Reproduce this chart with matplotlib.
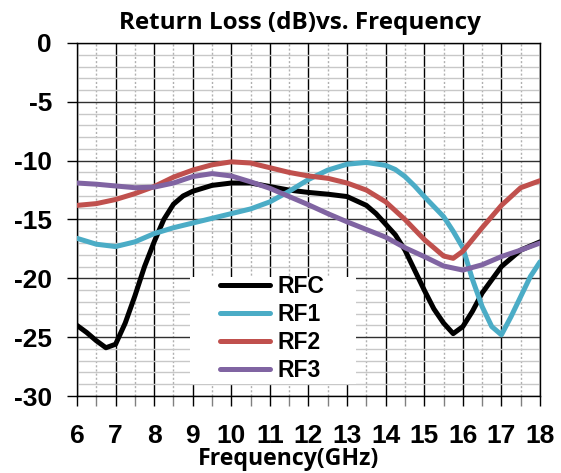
import matplotlib
matplotlib.use("Agg")
from matplotlib import pyplot as plt
from matplotlib.patches import Rectangle
from matplotlib.ticker import MultipleLocator

plt.rcParams["axes.unicode_minus"] = False

#
# - data
#

rfc_freq = [6, 6.25, 6.5, 6.75, 7, 7.25, 7.5, 7.75, 8, 8.25, 8.5, 8.75, 9, 9.5, 10, 10.5, 11, 11.5,
            12, 12.5, 13, 13.5, 13.75, 14, 14.25, 14.5, 14.75, 15, 15.25, 15.5, 15.75, 16, 16.25,
            16.5, 17, 17.5, 18]
rfc_db = [-24.0, -24.6, -25.3, -25.9, -25.6, -23.8, -21.5, -19.0, -16.9, -15.0, -13.7, -13.0, -12.6,
          -12.1, -11.9, -11.9, -12.2, -12.5, -12.7, -12.85, -13.05, -13.8, -14.5, -15.4, -16.3, -17.6,
          -19.3, -21.0, -22.6, -23.8, -24.7, -24.1, -22.8, -21.25, -19.0, -17.6, -16.9]

rf1_freq = [6, 6.5, 7, 7.5, 8, 8.5, 9, 9.5, 10, 10.5, 11, 11.5, 12, 12.5, 13, 13.5, 14, 14.25, 14.5,
            14.75, 15, 15.25, 15.5, 15.75, 16, 16.25, 16.5, 16.75, 17, 17.25, 17.5, 17.75, 18]
rf1_db = [-16.6, -17.1, -17.3, -16.9, -16.2, -15.7, -15.3, -14.9, -14.5, -14.1, -13.5, -12.6, -11.6,
          -10.8, -10.3, -10.15, -10.4, -10.75, -11.35, -12.15, -13.05, -13.9, -14.75, -16.0, -17.4,
          -20.1, -22.4, -24.1, -24.8, -23.25, -21.55, -19.85, -18.6]

rf2_freq = [6, 6.5, 7, 7.5, 8, 8.5, 9, 9.5, 10, 10.5, 11, 11.5, 12, 12.5, 13, 13.5, 14, 14.5, 15,
            15.5, 15.75, 16, 16.5, 17, 17.5, 18]
rf2_db = [-13.8, -13.65, -13.3, -12.8, -12.2, -11.4, -10.8, -10.35, -10.1, -10.2, -10.6, -11.0, -11.3,
          -11.5, -11.9, -12.5, -13.5, -15.0, -16.7, -18.1, -18.3, -17.7, -15.7, -13.8, -12.3, -11.7]

rf3_freq = [6, 6.5, 7, 7.5, 8, 8.5, 9, 9.5, 10, 10.5, 11, 11.5, 12, 12.5, 13, 13.5, 14, 14.5, 15,
            15.5, 16, 16.5, 17, 17.5, 18]
rf3_db = [-11.9, -12.0, -12.15, -12.3, -12.25, -11.9, -11.35, -11.1, -11.3, -11.8, -12.35, -13.05,
          -13.75, -14.5, -15.2, -15.85, -16.5, -17.4, -18.15, -18.95, -19.3, -18.85, -18.15, -17.6, -17.0]

names = ["RFC", "RF1", "RF2", "RF3"]
colors = ["black", "#4BACC6", "#C0504D", "#8064A2"]
series = [(rfc_freq, rfc_db), (rf1_freq, rf1_db), (rf2_freq, rf2_db), (rf3_freq, rf3_db)]

#
# plot
#

W, H = 561, 473
fig = plt.figure(figsize=(W / 100, H / 100), dpi=100)
ax = fig.add_axes([77 / W, 1 - 396 / H, 463 / W, 353 / H])

for (f, db), name, c in zip(series, names, colors):
    ax.plot(f, db, color=c, lw=3.6, label=name, solid_capstyle="round", solid_joinstyle="round", zorder=3)

ax.set_xlim(6, 18)
ax.set_ylim(-30, 0)
ax.xaxis.set_major_locator(MultipleLocator(1))
ax.xaxis.set_minor_locator(MultipleLocator(0.5))
ax.yaxis.set_major_locator(MultipleLocator(5))
ax.yaxis.set_minor_locator(MultipleLocator(1))

ax.grid(which="major", axis="x", color="black", lw=1.0)
ax.grid(which="minor", axis="x", color="#b0b0b0", lw=1.0, ls=(0, (1.5, 1.5)))
ax.grid(which="major", axis="y", color="#303030", lw=1.0)
ax.grid(which="minor", axis="y", color="#c8c8c8", lw=1.0)
ax.set_axisbelow(True)

for s in ax.spines.values():
    s.set_color("black")
    s.set_linewidth(1.0)

ax.tick_params(which="major", direction="out", length=7, width=1, color="black")
ax.tick_params(axis="x", which="minor", direction="out", length=7, width=1, color="#808080")
ax.tick_params(axis="y", which="minor", length=0)
ax.tick_params(axis="x", pad=13)
ax.tick_params(axis="y", pad=11)

for lab in ax.get_xticklabels() + ax.get_yticklabels():
    lab.set_fontfamily("Liberation Sans")
    lab.set_fontweight("bold")
    lab.set_fontsize(19)

fig.text(300 / W, 1 - 29 / H, "Return Loss (dB)vs. Frequency", family="Open Sans", weight="bold",
         fontsize=17.5, ha="center", va="baseline")
fig.text(289 / W, 1 - 465 / H, "Frequency(GHz)", family="Open Sans", weight="bold",
         fontsize=16.7, ha="center", va="baseline")

# white legend panel
ax.add_patch(Rectangle((0.244, 0.034), 0.359, 0.303, transform=ax.transAxes,
                       facecolor="white", edgecolor="none", zorder=4))
leg = ax.legend(loc="center left", bbox_to_anchor=(0.309, 0.191), frameon=False,
                prop={"family": "Liberation Sans", "weight": "bold", "size": 16.5},
                handlelength=2.2, labelspacing=0.22, handletextpad=0.3, borderpad=0, borderaxespad=0)
leg.set_zorder(5)

fig.savefig("out.png", dpi=100)
